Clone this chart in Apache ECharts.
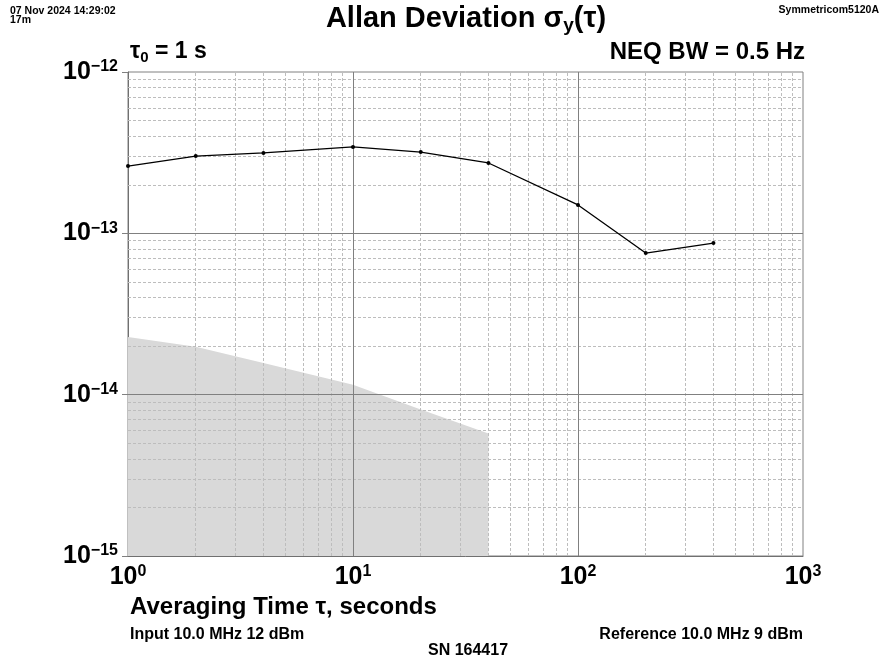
<!DOCTYPE html>
<html><head><meta charset="utf-8">
<script src="https://cdn.jsdelivr.net/npm/echarts@6/dist/echarts.min.js"></script>
<style>html,body{margin:0;padding:0;background:#fff}#c{width:884px;height:663px}</style>
</head><body><div id="c"></div>
<script>
// Measured Allan deviation
const tau = [1, 2, 4, 10, 20, 40, 100, 200, 400];
const adev = [2.61e-13, 3.01e-13, 3.15e-13, 3.43e-13, 3.19e-13, 2.73e-13, 1.50e-13, 7.55e-14, 8.7e-14];
// Noise floor (shaded)
const floorTau = [1, 2, 4, 10, 20, 40];
const floorDev = [2.28e-14, 1.98e-14, 1.57e-14, 1.15e-14, 8.1e-15, 5.75e-15];
// Axis extents and grid positions
const xRange = [1, 1000];
const yRange = [1e-15, 1e-12];
const xMajor = [10, 100];
const yMajor = [1e-14, 1e-13];
const mant = [2, 3, 4, 5, 6, 7, 8, 9];
const xMinor = [];
[1, 10, 100].forEach(d => mant.forEach(m => xMinor.push(m * d)));
const yMinor = [];
[1e-15, 1e-14, 1e-13].forEach(d => mant.forEach(m => yMinor.push(m * d)));

const FF = "'Liberation Sans', Arial, sans-serif";
const chart = echarts.init(document.getElementById('c'), null, {renderer: 'canvas'});

const supRich = {
  b: {fontFamily: FF, fontWeight: 'bold', fontSize: 25, color: '#000', lineHeight: 26},
  s: {fontFamily: FF, fontWeight: 'bold', fontSize: 16, color: '#000', lineHeight: 18, verticalAlign: 'top'}
};

function vLines(vals) { return vals.map(v => [{coord: [v, yRange[0]]}, {coord: [v, yRange[1]]}]); }
function hLines(vals) { return vals.map(v => [{coord: [xRange[0], v]}, {coord: [xRange[1], v]}]); }

const option = {
  backgroundColor: '#fff',
  animation: false,
  grid: {left: 128, right: 81, top: 72, bottom: 107, show: true, borderColor: '#808080', borderWidth: 1, containLabel: false},
  xAxis: {
    type: 'log', logBase: 10, min: xRange[0], max: xRange[1],
    splitLine: {show: false},
    axisLine: {show: true, lineStyle: {color: '#707070', width: 1}},
    axisTick: {show: false},
    axisLabel: {
      margin: 8,
      formatter: v => '{b|10}{s|' + Math.round(Math.log10(v)) + '}',
      rich: supRich
    }
  },
  yAxis: {
    type: 'log', logBase: 10, min: yRange[0], max: yRange[1],
    splitLine: {show: false},
    axisLine: {show: true, lineStyle: {color: '#707070', width: 1}},
    axisTick: {show: true, length: 6, lineStyle: {color: '#808080'}},
    axisLabel: {
      margin: 10,
      formatter: v => '{b|10}{s|\u2212' + Math.abs(Math.round(Math.log10(v))) + '}',
      rich: supRich
    }
  },
  series: [
    {
      name: 'floor', type: 'line', z: 1,
      data: floorTau.map((t, i) => [t, floorDev[i]]),
      symbol: 'none', lineStyle: {width: 0},
      areaStyle: {color: '#d9d9d9', opacity: 1, origin: 'start'},
      silent: true
    },
    {
      name: 'gridMinor', type: 'line', z: 2, data: [], silent: true,
      markLine: {
        silent: true, symbol: ['none', 'none'], label: {show: false}, animation: false,
        lineStyle: {color: '#bdbdbd', width: 1, type: [3, 2]},
        data: vLines(xMinor).concat(hLines(yMinor))
      }
    },
    {
      name: 'gridMajor', type: 'line', z: 3, data: [], silent: true,
      markLine: {
        silent: true, symbol: ['none', 'none'], label: {show: false}, animation: false,
        lineStyle: {color: '#808080', width: 1, type: 'solid'},
        data: vLines(xMajor).concat(hLines(yMajor))
      }
    },
    {
      name: 'adev', type: 'line', z: 5,
      data: tau.map((t, i) => [t, adev[i]]),
      symbol: 'circle', symbolSize: 4,
      itemStyle: {color: '#000'},
      lineStyle: {color: '#000', width: 1.3}
    }
  ],
  graphic: [
    {type: 'text', left: 10, top: 6, style: {text: '07 Nov 2024 14:29:02\n17m', font: 'bold 10.5px ' + FF, fill: '#000', lineHeight: 9}},
    {type: 'text', right: 5, top: 5, style: {text: 'Symmetricom5120A', font: 'bold 10.5px ' + FF, fill: '#000'}},
    {type: 'text', x: 466, y: 19, style: {
      text: '{t|Allan Deviation \u03c3}{sub|y}{t|(\u03c4)}', align: 'center', verticalAlign: 'middle',
      rich: {
        t: {fontFamily: FF, fontWeight: 'bold', fontSize: 29, lineHeight: 32, fill: '#000'},
        sub: {fontFamily: FF, fontWeight: 'bold', fontSize: 19, lineHeight: 14, verticalAlign: 'bottom', fill: '#000'}
      }}},
    {type: 'text', x: 130, y: 52, style: {
      text: '{t|\u03c4}{sub|0}{t| = 1 s}', align: 'left', verticalAlign: 'middle',
      rich: {
        t: {fontFamily: FF, fontWeight: 'bold', fontSize: 23, lineHeight: 26, fill: '#000'},
        sub: {fontFamily: FF, fontWeight: 'bold', fontSize: 15, lineHeight: 12, verticalAlign: 'bottom', fill: '#000'}
      }}},
    {type: 'text', x: 805, y: 52, style: {text: 'NEQ BW = 0.5 Hz', font: 'bold 24px ' + FF, fill: '#000', align: 'right', verticalAlign: 'middle'}},
    {type: 'text', x: 130, y: 607, style: {text: 'Averaging Time \u03c4, seconds', font: 'bold 24px ' + FF, fill: '#000', align: 'left', verticalAlign: 'middle'}},
    {type: 'text', x: 130, y: 635, style: {text: 'Input 10.0 MHz 12 dBm', font: 'bold 16px ' + FF, fill: '#000', align: 'left', verticalAlign: 'middle'}},
    {type: 'text', x: 803, y: 635, style: {text: 'Reference 10.0 MHz 9 dBm', font: 'bold 16px ' + FF, fill: '#000', align: 'right', verticalAlign: 'middle'}},
    {type: 'text', x: 468, y: 651, style: {text: 'SN 164417', font: 'bold 16px ' + FF, fill: '#000', align: 'center', verticalAlign: 'middle'}}
  ]
};
chart.setOption(option);
</script>
</body></html>
